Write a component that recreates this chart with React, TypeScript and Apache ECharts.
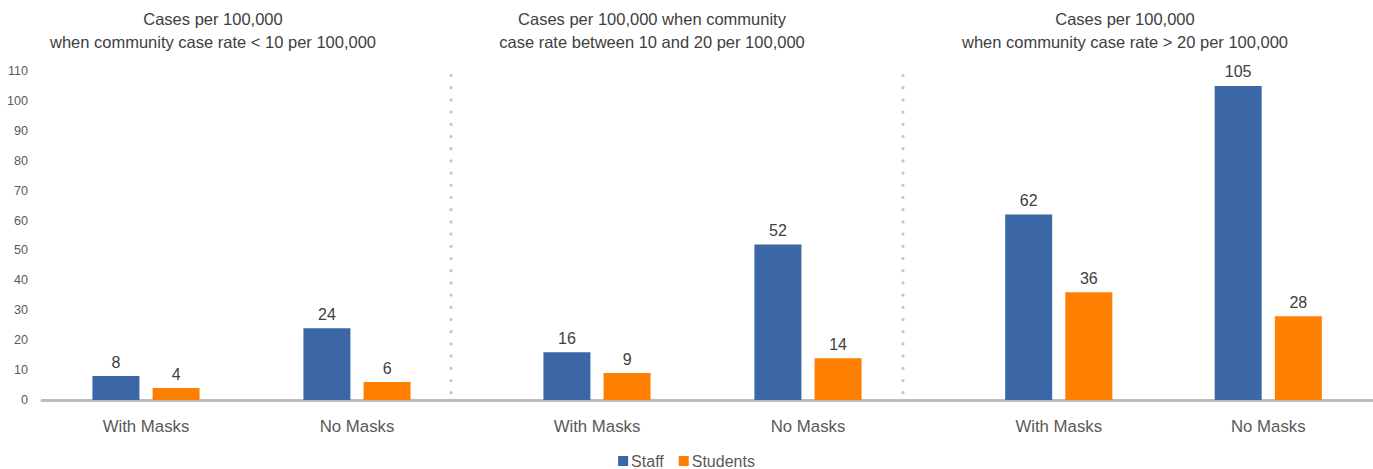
import React, { useEffect, useRef } from "react";
import * as echarts from "echarts";

const categories = ["With Masks", "No Masks"];
const panelTitles = [
  "Cases per 100,000\nwhen community case rate < 10 per 100,000",
  "Cases per 100,000 when community\ncase rate between 10 and 20 per 100,000",
  "Cases per 100,000\nwhen community case rate > 20 per 100,000",
];
const staffLow = [8, 24];
const studentsLow = [4, 6];
const staffMid = [16, 52];
const studentsMid = [9, 14];
const staffHigh = [62, 105];
const studentsHigh = [36, 28];
const yMax = 110;
const yInterval = 10;

const STAFF = "#3B67A6";
const STUDENTS = "#FF7F00";
const FONT = "Liberation Sans, Arial, sans-serif";

export default function App() {
  const ref = useRef<HTMLDivElement>(null);
  useEffect(() => {
    const chart = echarts.init(ref.current!, null, { renderer: "svg" });
    const top = 71;
    const height = 329;
    const panels = [
      { left: 40.5, width: 422, staff: staffLow, students: studentsLow, cx: 213 },
      { left: 491.5, width: 422, staff: staffMid, students: studentsMid, cx: 652 },
      { left: 954, width: 420, staff: staffHigh, students: studentsHigh, cx: 1125 },
    ];
    const grid: any[] = [{ left: 42, width: 1331, top, height }];
    const xAxis: any[] = [
      {
        type: "category",
        gridIndex: 0,
        data: [""],
        axisLine: { show: true, lineStyle: { color: "#BDBDC2", width: 3 } },
        axisTick: { show: false },
        axisLabel: { show: false },
      },
    ];
    const yAxis: any[] = [
      {
        type: "value",
        gridIndex: 0,
        min: 0,
        max: yMax,
        interval: yInterval,
        axisLine: { show: false },
        axisTick: { show: false },
        splitLine: { show: false },
        axisLabel: { color: "#595959", fontSize: 12.6, fontFamily: FONT, margin: 14 },
      },
    ];
    const series: any[] = [];
    const labelCfg = {
      show: true,
      position: "top",
      distance: 6,
      color: "#404040",
      fontSize: 16,
      fontFamily: FONT,
    };
    panels.forEach((p, i) => {
      const gi = i + 1;
      grid.push({ left: p.left, width: p.width, top, height });
      xAxis.push({
        type: "category",
        gridIndex: gi,
        data: categories,
        axisLine: { show: false },
        axisTick: { show: false },
        axisLabel: { color: "#595959", fontSize: 16.8, fontFamily: FONT, margin: 18 },
      });
      yAxis.push({
        type: "value",
        gridIndex: gi,
        min: 0,
        max: yMax,
        interval: yInterval,
        show: false,
      });
      series.push({
        type: "bar",
        name: "Staff",
        xAxisIndex: gi,
        yAxisIndex: gi,
        data: p.staff,
        barWidth: 47,
        barGap: "28%",
        itemStyle: { color: STAFF },
        label: labelCfg,
      });
      series.push({
        type: "bar",
        name: "Students",
        xAxisIndex: gi,
        yAxisIndex: gi,
        data: p.students,
        barWidth: 47,
        barGap: "28%",
        itemStyle: { color: STUDENTS },
        label: labelCfg,
      });
    });
    const graphic: any[] = [];
    panels.forEach((p, i) => {
      graphic.push({
        type: "text",
        x: p.cx,
        y: 7,
        style: {
          text: panelTitles[i],
          align: "center",
          verticalAlign: "top",
          font: `16.5px ${FONT}`,
          lineHeight: 23,
          fill: "#404040",
        },
      });
    });
    [451, 903].forEach((x) => {
      graphic.push({
        type: "line",
        shape: { x1: x, y1: 75.5, x2: x, y2: 399 },
        style: { stroke: "#C4C4C4", lineWidth: 3.2, lineDash: [0, 12.2], lineCap: "round" },
      });
    });
    chart.setOption({
      animation: false,
      grid,
      xAxis,
      yAxis,
      series,
      graphic,
      legend: {
        data: ["Staff", "Students"],
        left: "center",
        top: 453,
        padding: 0,
        icon: "rect",
        itemWidth: 10,
        itemHeight: 10,
        itemGap: 15,
        textStyle: { color: "#595959", fontSize: 16, fontFamily: FONT, padding: [0, 0, 0, -2] },
      },
    });
    return () => chart.dispose();
  }, []);
  return (
    <div
      ref={ref}
      style={{ position: "absolute", left: 0, top: 0, width: 1373, height: 469 }}
    />
  );
}
